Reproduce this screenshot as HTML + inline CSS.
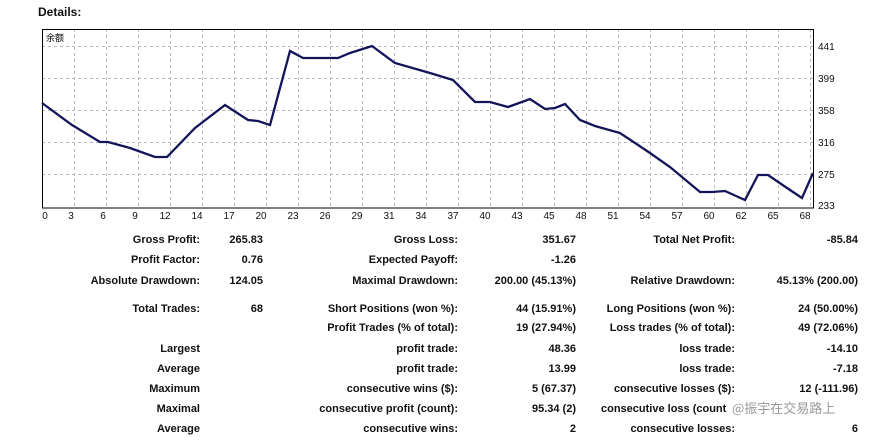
<!DOCTYPE html>
<html><head><meta charset="utf-8"><style>
body{margin:0;width:882px;height:446px;background:#fff;position:relative;overflow:hidden;font-family:Tahoma,"Liberation Sans","Noto Sans CJK SC",sans-serif;}
.t{position:absolute;font-size:11px;font-weight:bold;line-height:14px;white-space:nowrap;color:#111;}
.r{text-align:right}
</style></head><body>
<div class="t" style="left:38px;top:5px;font-size:12px">Details:</div>
<svg width="882" height="230" style="position:absolute;left:0;top:0" font-family="Liberation Sans,sans-serif" font-size="10">
<g stroke="#bbb" stroke-dasharray="3,3" stroke-width="1">
<line x1="42" y1="46.5" x2="813" y2="46.5"/><line x1="42" y1="78.5" x2="813" y2="78.5"/><line x1="42" y1="110.5" x2="813" y2="110.5"/><line x1="42" y1="142.5" x2="813" y2="142.5"/><line x1="42" y1="174.5" x2="813" y2="174.5"/>
<line x1="74.5" y1="29" x2="74.5" y2="208"/><line x1="106.5" y1="29" x2="106.5" y2="208"/><line x1="138.5" y1="29" x2="138.5" y2="208"/><line x1="170.5" y1="29" x2="170.5" y2="208"/><line x1="202.5" y1="29" x2="202.5" y2="208"/><line x1="234.5" y1="29" x2="234.5" y2="208"/><line x1="266.5" y1="29" x2="266.5" y2="208"/><line x1="298.5" y1="29" x2="298.5" y2="208"/><line x1="330.5" y1="29" x2="330.5" y2="208"/><line x1="362.5" y1="29" x2="362.5" y2="208"/><line x1="394.5" y1="29" x2="394.5" y2="208"/><line x1="426.5" y1="29" x2="426.5" y2="208"/><line x1="458.5" y1="29" x2="458.5" y2="208"/><line x1="490.5" y1="29" x2="490.5" y2="208"/><line x1="522.5" y1="29" x2="522.5" y2="208"/><line x1="554.5" y1="29" x2="554.5" y2="208"/><line x1="586.5" y1="29" x2="586.5" y2="208"/><line x1="618.5" y1="29" x2="618.5" y2="208"/><line x1="650.5" y1="29" x2="650.5" y2="208"/><line x1="682.5" y1="29" x2="682.5" y2="208"/><line x1="714.5" y1="29" x2="714.5" y2="208"/><line x1="746.5" y1="29" x2="746.5" y2="208"/><line x1="778.5" y1="29" x2="778.5" y2="208"/><line x1="810.5" y1="29" x2="810.5" y2="208"/>
</g>
<rect x="42.5" y="29.5" width="771" height="178.5" fill="none" stroke="#000" stroke-width="1"/>
<polyline fill="none" stroke="#14145a" stroke-width="2.3" points="42,103 72,125 100,142 108,142 130,148 155,157 167,157 195,128 225,105 248,120 258,121 270,125 290,51 303,58 338,58 350,53 372,46 395,63 430,73 453,80 475,102 490,102 508,107 530,99 545,109 555,108 565,104 580,120 595,126 620,133 650,153 670,167 700,192 712,192 725,191 745,200 758,175 768,175 790,190 802,198 813,173"/>
<text x="46" y="41" font-size="9" font-family="Noto Sans CJK SC,sans-serif">余额</text>
<g fill="#111">
<text x="818" y="50">441</text><text x="818" y="82">399</text><text x="818" y="114">358</text><text x="818" y="146">316</text><text x="818" y="178">275</text><text x="818" y="209">233</text>
</g>
<g fill="#111" text-anchor="middle">
<text x="45" y="219">0</text><text x="71" y="219">3</text><text x="103" y="219">6</text><text x="135" y="219">9</text><text x="165" y="219">12</text><text x="197" y="219">14</text><text x="229" y="219">17</text><text x="261" y="219">20</text><text x="293" y="219">23</text><text x="325" y="219">26</text><text x="357" y="219">29</text><text x="389" y="219">31</text><text x="421" y="219">34</text><text x="453" y="219">37</text><text x="485" y="219">40</text><text x="517" y="219">43</text><text x="549" y="219">45</text><text x="581" y="219">48</text><text x="613" y="219">51</text><text x="645" y="219">54</text><text x="677" y="219">57</text><text x="709" y="219">60</text><text x="741" y="219">62</text><text x="773" y="219">65</text><text x="805" y="219">68</text>
</g>
</svg>
<!-- col1 -->
<div class="t r" style="right:682px;top:233px">Gross Profit:</div><div class="t r" style="right:619px;top:233px">265.83</div>
<div class="t r" style="right:682px;top:253px">Profit Factor:</div><div class="t r" style="right:619px;top:253px">0.76</div>
<div class="t r" style="right:682px;top:274px">Absolute Drawdown:</div><div class="t r" style="right:619px;top:274px">124.05</div>
<div class="t r" style="right:682px;top:302px">Total Trades:</div><div class="t r" style="right:619px;top:302px">68</div>
<div class="t r" style="right:682px;top:342px">Largest</div>
<div class="t r" style="right:682px;top:362px">Average</div>
<div class="t r" style="right:682px;top:382px">Maximum</div>
<div class="t r" style="right:682px;top:402px">Maximal</div>
<div class="t r" style="right:682px;top:422px">Average</div>
<!-- col2 -->
<div class="t r" style="right:424px;top:233px">Gross Loss:</div><div class="t r" style="right:306px;top:233px">351.67</div>
<div class="t r" style="right:424px;top:253px">Expected Payoff:</div><div class="t r" style="right:306px;top:253px">-1.26</div>
<div class="t r" style="right:424px;top:274px">Maximal Drawdown:</div><div class="t r" style="right:306px;top:274px">200.00 (45.13%)</div>
<div class="t r" style="right:424px;top:302px">Short Positions (won %):</div><div class="t r" style="right:306px;top:302px">44 (15.91%)</div>
<div class="t r" style="right:424px;top:321px">Profit Trades (% of total):</div><div class="t r" style="right:306px;top:321px">19 (27.94%)</div>
<div class="t r" style="right:424px;top:342px">profit trade:</div><div class="t r" style="right:306px;top:342px">48.36</div>
<div class="t r" style="right:424px;top:362px">profit trade:</div><div class="t r" style="right:306px;top:362px">13.99</div>
<div class="t r" style="right:424px;top:382px">consecutive wins ($):</div><div class="t r" style="right:306px;top:382px">5 (67.37)</div>
<div class="t r" style="right:424px;top:402px">consecutive profit (count):</div><div class="t r" style="right:306px;top:402px">95.34 (2)</div>
<div class="t r" style="right:424px;top:422px">consecutive wins:</div><div class="t r" style="right:306px;top:422px">2</div>
<!-- col3 -->
<div class="t r" style="right:147px;top:233px">Total Net Profit:</div><div class="t r" style="right:24px;top:233px">-85.84</div>
<div class="t r" style="right:147px;top:274px">Relative Drawdown:</div><div class="t r" style="right:24px;top:274px">45.13% (200.00)</div>
<div class="t r" style="right:147px;top:302px">Long Positions (won %):</div><div class="t r" style="right:24px;top:302px">24 (50.00%)</div>
<div class="t r" style="right:147px;top:321px">Loss trades (% of total):</div><div class="t r" style="right:24px;top:321px">49 (72.06%)</div>
<div class="t r" style="right:147px;top:342px">loss trade:</div><div class="t r" style="right:24px;top:342px">-14.10</div>
<div class="t r" style="right:147px;top:362px">loss trade:</div><div class="t r" style="right:24px;top:362px">-7.18</div>
<div class="t r" style="right:147px;top:382px">consecutive losses ($):</div><div class="t r" style="right:24px;top:382px">12 (-111.96)</div>
<div class="t" style="left:601px;top:402px">consecutive loss (count</div>
<div class="t" style="left:732px;top:401px;font-weight:normal;color:#999;font-size:13px;font-family:'Noto Sans CJK SC',sans-serif">@振宇在交易路上</div>
<div class="t r" style="right:147px;top:422px">consecutive losses:</div><div class="t r" style="right:24px;top:422px">6</div>
</body></html>
